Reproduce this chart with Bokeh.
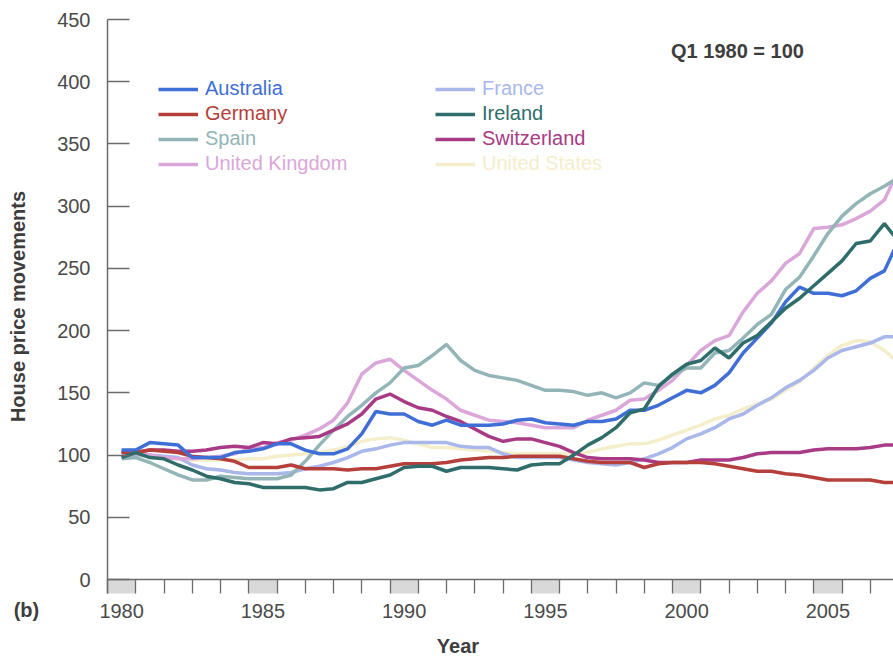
from bokeh.plotting import figure
from bokeh.models import Range1d, FixedTicker, Label, Legend, LegendItem, LinearAxis
from bokeh.embed import file_html
from bokeh.resources import INLINE

# ---------------- data (index, Q1 1980 = 100) ----------------
periods = [1980.5 + 0.5 * i for i in range(55)] + [2007.85]

countries = ["Australia", "France", "Germany", "Ireland",
             "Spain", "Switzerland", "United Kingdom", "United States"]

australia = [104, 104, 110, 109, 108, 98, 98, 98, 102, 103, 105, 109, 109, 104, 101, 101,
             105, 117, 135, 133, 133, 127, 124, 128, 124, 124, 124, 125, 128, 129, 126, 125,
             124, 127, 127, 129, 136, 136, 140, 146, 152, 150, 156, 166, 182, 194, 206, 223,
             235, 230, 230, 228, 232, 242, 248, 265]
france = [100, 100, 100, 99, 98, 92, 89, 88, 86, 85, 85, 85, 86, 89, 91, 94,
          98, 103, 105, 108, 110, 110, 110, 110, 107, 106, 106, 101, 98, 98, 98, 98,
          96, 94, 93, 92, 94, 97, 101, 106, 113, 117, 122, 129, 133, 140, 146, 154,
          160, 168, 178, 184, 187, 190, 195, 195]
germany = [102, 102, 104, 103, 102, 99, 98, 97, 95, 90, 90, 90, 92, 89, 89, 89,
           88, 89, 89, 91, 93, 93, 93, 94, 96, 97, 98, 98, 99, 99, 99, 99,
           97, 95, 94, 94, 94, 90, 93, 94, 94, 94, 93, 91, 89, 87, 87, 85,
           84, 82, 80, 80, 80, 80, 78, 78]
ireland = [98, 102, 98, 97, 92, 88, 83, 81, 78, 77, 74, 74, 74, 74, 72, 73,
           78, 78, 81, 84, 90, 91, 91, 87, 90, 90, 90, 89, 88, 92, 93, 93,
           100, 108, 114, 122, 134, 137, 155, 165, 173, 176, 186, 178, 190, 196, 207, 218,
           226, 236, 246, 256, 270, 272, 286, 276]
spain = [97, 98, 94, 89, 84, 80, 80, 83, 82, 81, 81, 81, 84, 95, 108, 120,
         131, 140, 150, 158, 170, 172, 180, 189, 176, 168, 164, 162, 160, 156, 152, 152,
         151, 148, 150, 146, 150, 158, 156, 164, 170, 170, 182, 184, 194, 205, 213, 233,
         243, 260, 278, 292, 302, 310, 316, 321]
switzerland = [103, 102, 104, 104, 103, 103, 104, 106, 107, 106, 110, 109, 113, 114, 115, 120,
               125, 133, 145, 149, 143, 138, 136, 131, 127, 121, 115, 111, 113, 113, 110, 107,
               102, 98, 97, 97, 97, 96, 94, 94, 94, 96, 96, 96, 98, 101, 102, 102,
               102, 104, 105, 105, 105, 106, 108, 108]
united_kingdom = [102, 101, 100, 98, 97, 97, 98, 99, 101, 105, 106, 110, 112, 116, 121, 128,
                  142, 165, 174, 177, 168, 160, 152, 145, 136, 132, 128, 127, 126, 124, 122, 122,
                  122, 128, 132, 136, 144, 145, 152, 160, 172, 184, 192, 196, 215, 230, 240, 254,
                  262, 282, 283, 285, 290, 296, 305, 322]
united_states = [100, 99, 99, 98, 97, 96, 96, 96, 96, 97, 97, 99, 100, 101, 102, 104,
                 107, 111, 113, 114, 112, 109, 106, 106, 105, 104, 103, 102, 101, 101, 101, 101,
                 101, 102, 105, 107, 109, 109, 112, 116, 120, 124, 129, 132, 137, 141, 145, 152,
                 159, 170, 180, 188, 192, 191, 184, 177]

series = [australia, france, germany, ireland, spain, switzerland, united_kingdom, united_states]
colors = ["#3f6fd6", "#a9b7ea", "#b5403b", "#2f6d6b",
          "#93b5b8", "#a83a86", "#dba7da", "#f5eecb"]
draw_order = [7, 1, 6, 4, 5, 2, 0, 3]

y_ticks = [0, 50, 100, 150, 200, 250, 300, 350, 400, 450]
year_labels = ["1980", "1985", "1990", "1995", "2000", "2005"]
label_pos = [1980.5, 1985.5, 1990.5, 1995.5, 2000.5, 2005.5]
year_bounds = list(range(1980, 2009))
shaded_years = [1980, 1985, 1990, 1995, 2000, 2005]
band_depth = 11.25

FONT = "Liberation Sans"
GREY = "#4a4a4a"
DARK = "#3d3d3d"
AXIS = "#6b6b6b"

# the frame covers the whole canvas; the axes are pinned at fixed data locations
W, H = 893, 657
PX_YEAR = 28.25          # pixels per year
PX_UNIT = 560 / 450      # pixels per index point
ORIGIN = (107, 579)      # canvas position of (1980, 0)
x_range = Range1d(1980 - ORIGIN[0] / PX_YEAR, 1980 + (W - ORIGIN[0]) / PX_YEAR)
y_range = Range1d(-(H - ORIGIN[1]) / PX_UNIT, ORIGIN[1] / PX_UNIT)

p = figure(width=W, height=H, output_backend="svg", toolbar_location=None,
           x_range=x_range, y_range=y_range,
           min_border_left=0, min_border_right=0, min_border_top=0, min_border_bottom=0)
p.outline_line_color = None
p.xgrid.grid_line_color = None
p.ygrid.grid_line_color = None
p.background_fill_color = "white"

# year band under the zero line
p.quad(left=shaded_years, right=[y + 1 for y in shaded_years],
       bottom=-band_depth, top=0, fill_color="#d9d9d9", line_color=None)

renderers = {}
for i in draw_order:
    renderers[i] = p.line(periods, series[i], line_width=3.5, color=colors[i])

# y axis
ya = p.yaxis[0]
ya.fixed_location = 1980
ya.bounds = (-band_depth, 450)
ya.ticker = FixedTicker(ticks=y_ticks)
ya.major_tick_in = 22
ya.major_tick_out = 0
ya.minor_tick_line_color = None
ya.major_tick_line_color = AXIS
ya.major_tick_line_width = 1.5
ya.axis_line_color = AXIS
ya.axis_line_width = 1.5
ya.major_label_standoff = 17
ya.axis_label = "House price movements"
ya.axis_label_standoff = 25

# x axis: year band ticks and labels
xa = p.xaxis[0]
xa.fixed_location = -band_depth
xa.bounds = (1980, 2008)
xa.ticker = FixedTicker(ticks=label_pos, minor_ticks=year_bounds)
xa.major_label_overrides = dict(zip(label_pos, year_labels))
xa.major_tick_line_color = None
xa.major_tick_in = 0
xa.major_tick_out = 0
xa.minor_tick_in = 14
xa.minor_tick_out = 0
xa.minor_tick_line_color = AXIS
xa.minor_tick_line_width = 1.3
xa.axis_line_color = None
xa.major_label_standoff = 10

for ax in (xa, ya):
    ax.major_label_text_font = FONT
    ax.major_label_text_font_size = "20px"
    ax.major_label_text_color = GREY
    ax.axis_label_text_font = FONT
    ax.axis_label_text_font_size = "20px"
    ax.axis_label_text_font_style = "bold"
    ax.axis_label_text_color = DARK

# zero line
p.add_layout(LinearAxis(fixed_location=0, bounds=(1980, 2008), ticker=FixedTicker(ticks=[]),
                        axis_line_color=AXIS, axis_line_width=1.5,
                        major_tick_line_color=None, minor_tick_line_color=None), "below")

# "Year" title, centred under the printed part of the original axis
p.add_layout(LinearAxis(fixed_location=-band_depth, bounds=(1980, 2004.8),
                        ticker=FixedTicker(ticks=[]), axis_line_color=None,
                        major_tick_line_color=None, minor_tick_line_color=None,
                        axis_label="Year", axis_label_standoff=41,
                        axis_label_text_font=FONT, axis_label_text_font_size="20px",
                        axis_label_text_font_style="bold", axis_label_text_color=DARK), "below")

# legend: one small legend per country so each label takes its line colour
for i, name in enumerate(countries):
    row, col = i // 2, i % 2
    lg = Legend(items=[LegendItem(label=name, renderers=[renderers[i]])],
                location=(158 + col * 277, 557 - row * 25),
                padding=0, margin=0, spacing=0,
                glyph_width=40, glyph_height=20, label_height=20,
                label_standoff=7,
                label_text_font=FONT, label_text_font_size="20px",
                label_text_color=colors[i],
                background_fill_alpha=0, border_line_color=None)
    p.add_layout(lg)

p.add_layout(Label(x=2002.3, y=425, text="Q1 1980 = 100", text_font=FONT,
                   text_font_size="20px", text_font_style="bold", text_color=DARK,
                   text_align="center", text_baseline="middle"))
p.add_layout(Label(x=1977.13, y=-24.9, text="(b)", text_font=FONT,
                   text_font_size="20px", text_font_style="bold", text_color=DARK,
                   text_align="center", text_baseline="middle"))

open("out.html", "w").write(file_html(p, INLINE))
